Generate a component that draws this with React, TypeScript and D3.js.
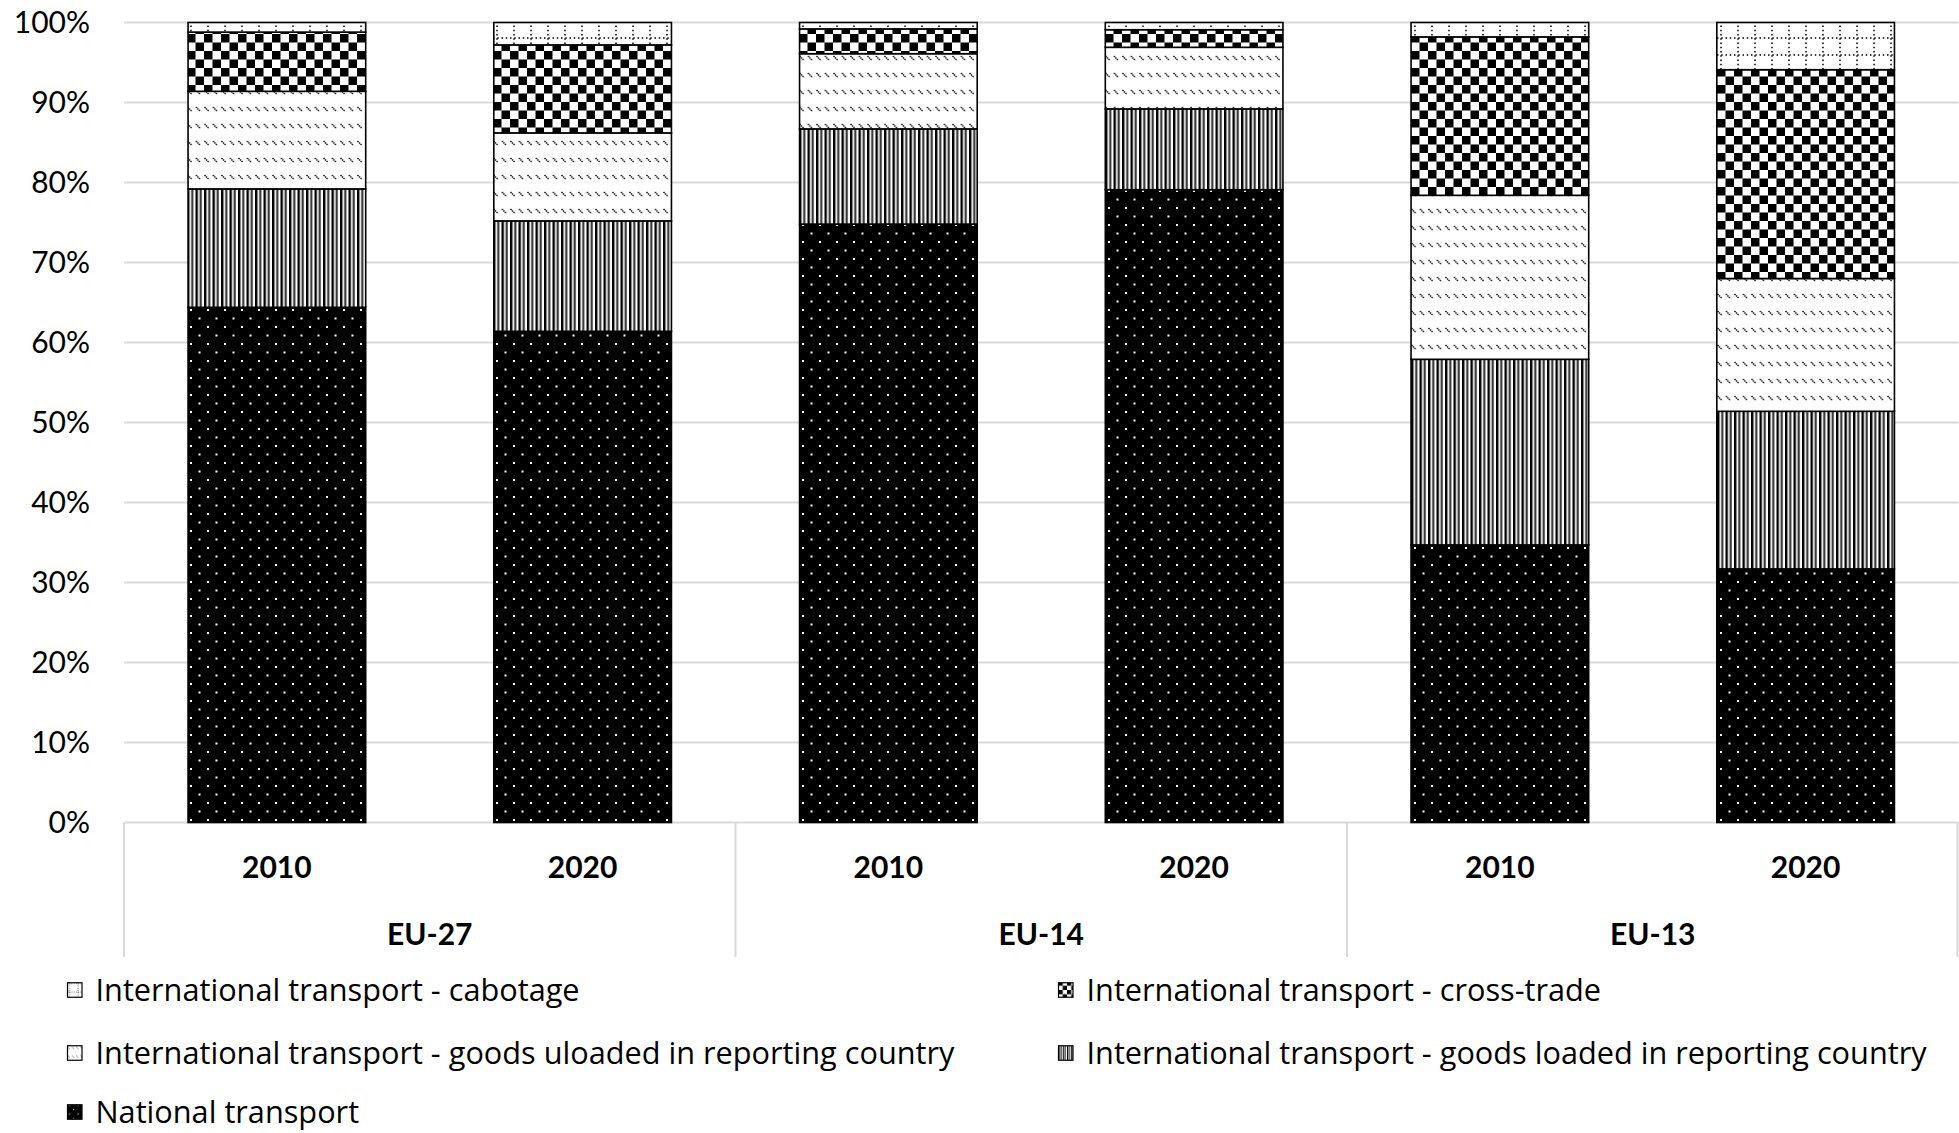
import React from "react";
import * as d3 from "d3";

const groups = ["EU-27", "EU-14", "EU-13"];
const years = ["2010", "2020"];
const seriesKeys = ["national", "loaded", "unloaded", "cross", "cabotage"];
const seriesLabels: Record<string, string> = {
  cabotage: "International transport - cabotage",
  cross: "International transport - cross-trade",
  unloaded: "International transport - goods uloaded in reporting country",
  loaded: "International transport - goods loaded in reporting country",
  national: "National transport",
};
// values in %, order: [EU-27 2010, EU-27 2020, EU-14 2010, EU-14 2020, EU-13 2010, EU-13 2020]
const national = [64.4, 61.4, 74.8, 79.1, 34.7, 31.7];
const loaded = [14.8, 13.8, 11.9, 10.1, 23.2, 19.7];
const unloaded = [12.2, 11.0, 9.4, 7.7, 20.5, 16.6];
const cross = [7.4, 11.0, 3.1, 2.2, 19.8, 26.1];
const cabotage = [1.2, 2.8, 0.8, 0.9, 1.8, 5.9];
const yTicks = [0, 10, 20, 30, 40, 50, 60, 70, 80, 90, 100];
const legendRows = [
  ["cabotage", "cross"],
  ["unloaded", "loaded"],
  ["national"],
];

const W = 1959;
const H = 1133;
const FONT = "Lato, 'Open Sans', sans-serif";
const LEGEND_FONT = "'Open Sans', Lato, sans-serif";

function Patterns({ id, s }: { id: string; s: number }) {
  const t = 17 * s;
  const h = t / 2;
  return (
    <>
      <pattern id={`national${id}`} width={t} height={t} patternUnits="userSpaceOnUse">
        <rect width={t} height={t} fill="#000" />
        <rect x={3 * s} y={3 * s} width={2 * s} height={2 * s} fill="#fff" />
        <rect x={3 * s + h} y={3 * s + h} width={2 * s} height={2 * s} fill="#fff" />
      </pattern>
      <pattern id={`loaded${id}`} width={h} height={h} patternUnits="userSpaceOnUse">
        <rect width={h} height={h} fill="#fff" />
        <rect x={0} y={0} width={2.4 * s} height={h} fill="#000" />
        <rect x={h / 2} y={0} width={2 * s} height={h} fill="#222" />
      </pattern>
      <pattern id={`unloaded${id}`} width={h} height={t} patternUnits="userSpaceOnUse">
        <rect width={h} height={t} fill="#fff" />
        <path d={`M${0.5 * s},${5 * s} L${5 * s},${9.5 * s}`} stroke="#000" strokeWidth={1.4 * s} strokeDasharray={`${1.4 * s} ${0.7 * s}`} />
      </pattern>
      <pattern id={`cross${id}`} width={t} height={t} patternUnits="userSpaceOnUse">
        <rect width={t} height={t} fill="#fff" />
        <rect x={0} y={0} width={h} height={h} fill="#000" />
        <rect x={h} y={h} width={h} height={h} fill="#000" />
      </pattern>
      <pattern id={`cabotage${id}`} width={t} height={t} patternUnits="userSpaceOnUse">
        <rect width={t} height={t} fill="#fff" />
        <line x1={0} y1={4 * s} x2={t} y2={4 * s} stroke="#000" strokeWidth={1.5 * s} strokeDasharray={`${1.5 * s} ${2.75 * s}`} />
        <line x1={4 * s} y1={0} x2={4 * s} y2={t} stroke="#000" strokeWidth={1.5 * s} strokeDasharray={`${1.5 * s} ${2.75 * s}`} />
      </pattern>
    </>
  );
}

export default function App() {
  const dataMap: Record<string, number[]> = { national, loaded, unloaded, cross, cabotage };
  const rows = groups.flatMap((g, gi) =>
    years.map((yr, yi) => {
      const idx = gi * 2 + yi;
      const o: any = { group: g, year: yr };
      seriesKeys.forEach((k) => (o[k] = dataMap[k][idx]));
      return o;
    })
  );
  const stack = d3.stack<any>().keys(seriesKeys);
  const layers = stack(rows);

  const plotLeft = 124;
  const plotRight = 1958.5;
  const yScale = d3.scaleLinear().domain([0, 100]).range([822.5, 22.5]);
  const x0 = d3.scaleBand().domain(groups).range([plotLeft, plotRight]).padding(0);
  const x1 = d3
    .scaleBand()
    .domain(years)
    .range([0, x0.bandwidth()])
    .paddingInner(0.419)
    .paddingOuter(0.2095);

  const fmt = (v: number) => `${v}%`;
  const gridColor = "#d9d9d9";

  const legendX = [67.5, 1058.5];
  const legendY = [990, 1053, 1112];

  return (
    <svg
      width={W}
      height={H}
      style={{ position: "absolute", left: 0, top: 0, background: "#fff" }}
      fontFamily={FONT}
    >
      <defs>
        <Patterns id="" s={1} />
        <Patterns id="L" s={0.5} />
      </defs>
      <rect width={W} height={H} fill="#fff" />
      {yTicks.map((t) => (
        <g key={t}>
          <line x1={plotLeft} x2={plotRight} y1={yScale(t)} y2={yScale(t)} stroke={gridColor} strokeWidth={2} />
          <text x={90} y={yScale(t)} dy="0.35em" textAnchor="end" fontSize={30} fill="#000">
            {fmt(t)}
          </text>
        </g>
      ))}
      {groups.map((g) => (
        <line key={g} x1={x0(g)!} x2={x0(g)!} y1={yScale(0)} y2={957} stroke={gridColor} strokeWidth={2} />
      ))}
      <line x1={plotRight - 1} x2={plotRight - 1} y1={yScale(0)} y2={957} stroke={gridColor} strokeWidth={2} />
      {layers.map((layer) => (
        <g key={layer.key} fill={`url(#${layer.key})`}>
          {layer.map((d: any, i: number) => {
            const r = rows[i];
            const x = x0(r.group)! + x1(r.year)!;
            return (
              <rect
                key={i}
                x={x}
                y={yScale(d[1])}
                width={x1.bandwidth()}
                height={yScale(d[0]) - yScale(d[1])}
                stroke="#000"
                strokeWidth={1.6}
              />
            );
          })}
        </g>
      ))}
      {rows.map((r, i) => (
        <text
          key={i}
          x={x0(r.group)! + x1(r.year)! + x1.bandwidth() / 2}
          y={867}
          dy="0.35em"
          textAnchor="middle"
          fontSize={30}
          fontWeight="bold"
          fill="#000"
        >
          {r.year}
        </text>
      ))}
      {groups.map((g) => (
        <text
          key={g}
          x={x0(g)! + x0.bandwidth() / 2}
          y={934.5}
          dy="0.35em"
          textAnchor="middle"
          fontSize={30}
          fontWeight="bold"
          fill="#000"
        >
          {g}
        </text>
      ))}
      {legendRows.map((row, ri) =>
        row.map((k, ci) => (
          <g key={k} transform={`translate(${legendX[ci]},${legendY[ri]})`}>
            <rect x={0} y={-7.25} width={14.5} height={14.5} fill={`url(#${k}L)`} stroke="#000" strokeWidth={1.2} />
            <text x={28} y={0} dy="0.35em" fontSize={30.7} fontFamily={LEGEND_FONT} fill="#000">
              {seriesLabels[k]}
            </text>
          </g>
        ))
      )}
    </svg>
  );
}
